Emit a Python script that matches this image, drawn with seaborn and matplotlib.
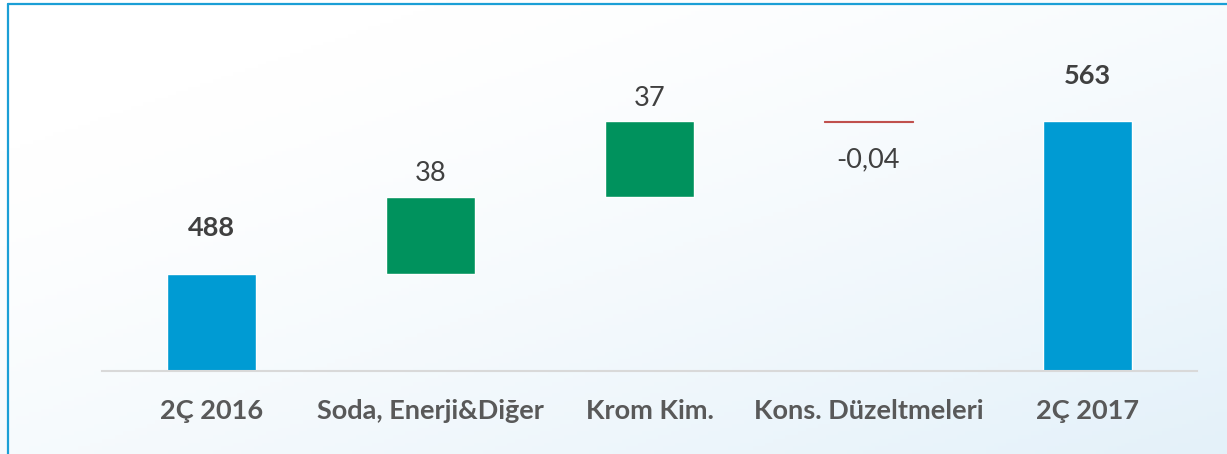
import numpy as np
import pandas as pd
import matplotlib.pyplot as plt
import seaborn as sns
from matplotlib.lines import Line2D
plt.switch_backend("Agg")

categories = ["2Ç 2016", "Soda, Enerji&Diğer", "Krom Kim.", "Kons. Düzeltmeleri", "2Ç 2017"]
values = [488, 38, 37, -0.04, 563]
is_total = [True, False, False, False, True]

# waterfall: deltas start where the running sum ended
running = np.cumsum([0] + values[:-1])
bottoms = [0 if t else running[i] for i, t in enumerate(is_total)]
df = pd.DataFrame({"cat": categories, "value": values, "bottom": bottoms, "total": is_total})

blue = "#009bd3"
green = "#00925d"
red = "#c0504d"

sns.set_theme(style="white")
plt.rcParams["font.family"] = ["Lato", "DejaVu Sans"]

fig = plt.figure(figsize=(12.27, 4.54), dpi=100)

# soft white -> light blue background
bg = fig.add_axes([0, 0, 1, 1], zorder=-1)
u, v = np.meshgrid(np.linspace(0, 1, 300), np.linspace(0, 1, 120))
t = np.clip(0.55 * u + 0.6 * v - 0.2, 0, 1) ** 1.3
c0 = np.array([255, 255, 255]) / 255
c1 = np.array([226, 240, 249]) / 255
bg.imshow(c0 + (c1 - c0) * t[..., None], aspect="auto", extent=[0, 1, 0, 1])
bg.axis("off")

ax = fig.add_axes([102 / 1227, 1 - 371 / 454, 1095 / 1227, (371 - 20) / 454])
ax.patch.set_alpha(0)

sns.barplot(data=df, x="cat", y="value", bottom=df["bottom"], width=0.405,
            color=blue, saturation=1, ax=ax)

for patch, row in zip(ax.patches, df.itertuples()):
    if row.total:
        patch.set_facecolor(blue)
    elif row.value > 0:
        patch.set_facecolor(green)
    else:
        patch.set_facecolor(red)
        patch.set_edgecolor(red)
        patch.set_linewidth(0.8)

for i, row in enumerate(df.itertuples()):
    top = row.bottom + row.value
    label = f"{row.value:g}".replace(".", ",")
    if row.total:
        ax.annotate(label, (i, top), xytext=(0, 27), textcoords="offset points",
                    ha="center", va="baseline", fontsize=19.5, fontweight="bold", color="#404040")
    elif row.value > 0:
        ax.annotate(label, (i, top), xytext=(0, 11), textcoords="offset points",
                    ha="center", va="baseline", fontsize=19.5, color="#404040")
    else:
        ax.annotate(label, (i, row.bottom), xytext=(0, -33), textcoords="offset points",
                    ha="center", va="baseline", fontsize=19.5, color="#404040")

ax.set_ylim(440, 613)
ax.set_xlim(-0.5, 4.5)
ax.set_xlabel("")
ax.set_ylabel("")
ax.set_yticks([])
ax.tick_params(axis="x", length=0, pad=20, labelsize=19.5, labelcolor="#595959")
for lbl in ax.get_xticklabels():
    lbl.set_fontweight("bold")
for s in ["top", "right", "left"]:
    ax.spines[s].set_visible(False)
ax.spines["bottom"].set_color("#d9d9d9")
ax.spines["bottom"].set_linewidth(1.5)

# frame lines on top and left only
fig.add_artist(Line2D([7.5 / 1227, 7.5 / 1227], [0, 1 - 3.5 / 454], transform=fig.transFigure,
                      color="#1b9fd6", linewidth=1.6))
fig.add_artist(Line2D([7.5 / 1227, 1], [1 - 3.5 / 454, 1 - 3.5 / 454], transform=fig.transFigure,
                      color="#1b9fd6", linewidth=1.6))

fig.savefig("out.png", dpi=100)
